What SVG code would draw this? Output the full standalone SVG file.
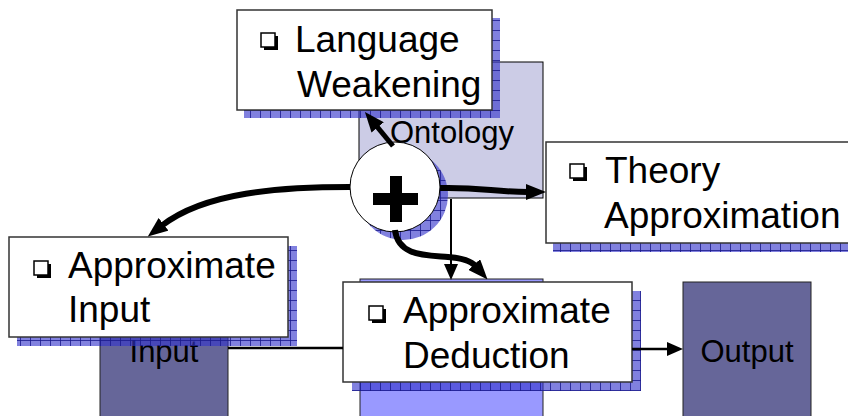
<svg xmlns="http://www.w3.org/2000/svg" width="848" height="416" viewBox="0 0 848 416">
<defs>
<pattern id="grid" patternUnits="userSpaceOnUse" width="10" height="10">
<rect width="10" height="10" fill="#3333CC" fill-opacity="0.62"/>
<path d="M0,0.5 H10 M0.5,0 V10" stroke="#1A1A8C" stroke-width="1" stroke-opacity="0.8"/>
</pattern>
<marker id="ahThick" viewBox="0 0 20 16" refX="2" refY="8" markerWidth="20" markerHeight="16" markerUnits="userSpaceOnUse" orient="auto">
<path d="M0,0 L20,8 L0,16 z" fill="#000"/>
</marker>
<marker id="ahThin" viewBox="0 0 16 14" refX="2" refY="7" markerWidth="16" markerHeight="14" markerUnits="userSpaceOnUse" orient="auto">
<path d="M0,0 L16,7 L0,14 z" fill="#000"/>
</marker>
</defs>
<style>
.lbl{font-family:"Liberation Sans",Arial,sans-serif;font-size:37px;fill:#000}
.sm{font-family:"Liberation Sans",Arial,sans-serif;font-size:31px;fill:#000;text-anchor:middle}
.note{fill:#fff;stroke:#333;stroke-width:1.5}
.shadow{fill:url(#grid)}
.dark{fill:#666699;stroke:#222;stroke-width:1}
.thick{fill:none;stroke:#000;stroke-width:6;marker-end:url(#ahThick)}
.thin{fill:none;stroke:#000;stroke-width:2.5}
.bul{fill:#fff;stroke:#000;stroke-width:1.5}
</style>

<g id="ontology">
<rect x="359" y="62" width="184" height="136" fill="#CCCCE6" stroke="#000" stroke-width="1"/>
<text class="sm" x="452" y="143">Ontology</text>
</g>

<g id="input">
<rect class="dark" x="100" y="300" width="128" height="130"/>
<text class="sm" x="164" y="362">Input</text>
</g>

<g id="deduction">
<rect x="360" y="279" width="183" height="150" fill="#9999FF" stroke="#222" stroke-width="1"/>
</g>

<g id="output">
<rect class="dark" x="683" y="282" width="128" height="148"/>
<text class="sm" x="747" y="362">Output</text>
</g>

<g id="combine">
<circle cx="403" cy="195" r="45" class="shadow"/>
<circle cx="395" cy="187" r="45" fill="#fff" stroke="#000" stroke-width="1"/>
<rect x="390" y="176" width="12" height="46" fill="#000"/>
<rect x="373" y="193" width="45" height="12" fill="#000"/>
</g>

<g id="language-weakening">
<rect class="shadow" x="244" y="18" width="256" height="100"/>
<rect class="note" x="237" y="10" width="255" height="100"/>
<rect class="bul" x="261" y="33" width="14" height="14"/>
<path d="M264,48.5 H276.5 V36" fill="none" stroke="#000" stroke-width="3"/>
<text class="lbl" x="295" y="52">Language</text>
<text class="lbl" x="297" y="97">Weakening</text>
</g>

<g id="theory-approximation">
<rect class="shadow" x="553" y="150" width="310" height="102"/>
<rect class="note" x="546" y="142" width="310" height="101"/>
<rect class="bul" x="570" y="164" width="14" height="14"/>
<path d="M573,179.5 H585.5 V167" fill="none" stroke="#000" stroke-width="3"/>
<text class="lbl" x="605" y="183">Theory</text>
<text class="lbl" x="604" y="228">Approximation</text>
</g>

<g id="approximate-input">
<rect class="shadow" x="17" y="246" width="280" height="100"/>
<rect class="note" x="9" y="237" width="279" height="100"/>
<rect class="bul" x="34" y="261" width="14" height="14"/>
<path d="M37,276.5 H49.5 V264" fill="none" stroke="#000" stroke-width="3"/>
<text class="lbl" x="68" y="278">Approximate</text>
<text class="lbl" x="68" y="322">Input</text>
</g>

<g id="approximate-deduction">
<rect class="shadow" x="352" y="291" width="289" height="100"/>
<rect class="note" x="343" y="282" width="289" height="100"/>
<rect class="bul" x="369" y="306" width="14" height="14"/>
<path d="M372,321.5 H384.5 V309" fill="none" stroke="#000" stroke-width="3"/>
<text class="lbl" x="403" y="323">Approximate</text>
<text class="lbl" x="403" y="368">Deduction</text>
</g>

<g id="connectors">
<path class="thin" d="M228,348 H343"/>
<path class="thin" d="M632,349 H669" style="marker-end:url(#ahThin)"/>
<path class="thin" d="M451,199 V266" style="stroke-width:2;marker-end:url(#ahThin)"/>
<path class="thick" d="M393,146 L376.4,125.9" style="stroke-width:5"/>
<path class="thick" d="M440,188 C480,187 495,192 528,192"/>
<path class="thick" d="M350,187 C280,187 205,192 162,225.5"/>
<path class="thick" d="M395,230 C398,256 425,255 448,257 C462,258 471,261 475.5,266"/>
</g>
</svg>
